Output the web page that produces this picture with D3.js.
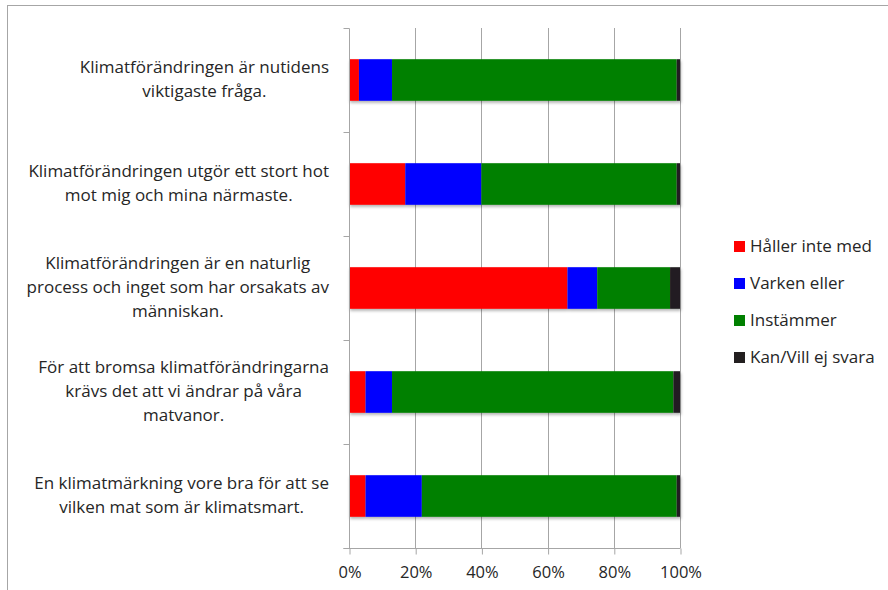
<!DOCTYPE html>
<html>
<head>
<meta charset="utf-8">
<script src="https://cdn.jsdelivr.net/npm/d3@7"></script>
<style>
    body { margin: 0; background: #fff; }
    svg { display: block; font-family: "Open Sans", Lato, sans-serif; }
</style>
</head>
<body>
<div id="chart"></div>
<script>
// -- DATA --
const statements = [
    ["Klimatförändringen är nutidens", "viktigaste fråga."],
    ["Klimatförändringen utgör ett stort hot", "mot mig och mina närmaste."],
    ["Klimatförändringen är en naturlig", "process och inget som har orsakats av", "människan."],
    ["För att bromsa klimatförändringarna", "krävs det att vi ändrar på våra", "matvanor."],
    ["En klimatmärkning vore bra för att se", "vilken mat som är klimatsmart."]
];
const series = ["Håller inte med", "Varken eller", "Instämmer", "Kan/Vill ej svara"];
const hallerInteMed = [3, 17, 66, 5, 5];
const varkenEller = [10, 23, 9, 8, 17];
const instammer = [86, 59, 22, 85, 77];
const kanVillEjSvara = [1, 1, 3, 2, 1];
const xTicks = [0, 0.2, 0.4, 0.6, 0.8, 1];
const colors = ["#ff0000", "#0000ff", "#008000", "#231f20"];

// -- TABLE --
let rows = statements.map((s, i) => ({
    id: i,
    "Håller inte med": hallerInteMed[i],
    "Varken eller": varkenEller[i],
    "Instämmer": instammer[i],
    "Kan/Vill ej svara": kanVillEjSvara[i]
}));

const width = 888, height = 590;
const plotLeft = 349, plotRight = 680, plotTop = 28, plotBottom = 548;
const fontSize = "17px";

let svg = d3.select("#chart").append("svg")
    .attr("width", width)
    .attr("height", height);

// shadow for bars
let defs = svg.append("defs");
defs.append("filter")
    .attr("id", "shadow")
    .attr("x", "-5%").attr("y", "-10%")
    .attr("width", "115%").attr("height", "140%")
    .append("feDropShadow")
    .attr("dx", 1).attr("dy", 2)
    .attr("stdDeviation", 1.5)
    .attr("flood-color", "#000")
    .attr("flood-opacity", 0.3);

// outer frame
svg.append("rect")
    .attr("x", 7.5).attr("y", 5.5)
    .attr("width", width).attr("height", height)
    .attr("fill", "none")
    .attr("stroke", "#a6a6a6");

let x = d3.scaleLinear().domain([0, 1]).range([plotLeft, plotRight]);
let y = d3.scaleBand().domain(rows.map(d => d.id)).range([plotTop, plotBottom]).paddingInner(0.6).paddingOuter(0.3);
let yEdge = d3.scaleLinear().domain([0, statements.length]).range([plotTop, plotBottom]);

// -- GRID --
svg.append("g")
    .selectAll("line")
    .data(xTicks.slice(1))
    .enter().append("line")
    .attr("x1", d => Math.round(x(d)) + 0.5)
    .attr("x2", d => Math.round(x(d)) + 0.5)
    .attr("y1", plotTop)
    .attr("y2", plotBottom)
    .attr("stroke", "#a6a6a6");

// -- BARS --
let stack = d3.stack().keys(series)(rows.map(r => {
    let total = d3.sum(series, k => r[k]);
    let o = { id: r.id };
    series.forEach(k => o[k] = r[k] / total);
    return o;
}));

let barG = svg.append("g").attr("filter", "url(#shadow)");
barG.selectAll("g")
    .data(stack)
    .enter().append("g")
    .attr("fill", (d, i) => colors[i])
    .selectAll("rect")
    .data(d => d)
    .enter().append("rect")
    .attr("x", d => x(d[0]))
    .attr("width", d => x(d[1]) - x(d[0]))
    .attr("y", d => y(d.data.id))
    .attr("height", y.bandwidth());

// -- AXES --
let xAxis = d3.axisBottom(x)
    .tickValues(xTicks)
    .tickFormat(d3.format(".0%"))
    .tickSizeInner(6)
    .tickSizeOuter(0)
    .tickPadding(12);

let gx = svg.append("g")
    .attr("transform", `translate(0.5,${plotBottom + 0.5})`)
    .call(xAxis);
gx.select(".domain").attr("stroke", "#a6a6a6").attr("d", `M${plotLeft - 6},0H${plotRight}`);
gx.selectAll(".tick line").attr("stroke", "#a6a6a6");
gx.selectAll(".tick text")
    .attr("fill", "#262626")
    .style("font-size", "16.5px")
    .style("font-family", "'Open Sans', Lato, sans-serif");

let gy = svg.append("g")
    .attr("transform", `translate(${plotLeft + 0.5},0.5)`);
gy.append("line")
    .attr("y1", plotTop).attr("y2", plotBottom)
    .attr("stroke", "#a6a6a6");
gy.selectAll(".cat-tick")
    .data(d3.range(statements.length + 1))
    .enter().append("line")
    .attr("class", "cat-tick")
    .attr("x1", -6).attr("x2", 0)
    .attr("y1", d => Math.round(yEdge(d)))
    .attr("y2", d => Math.round(yEdge(d)))
    .attr("stroke", "#a6a6a6");

// -- CATEGORY LABELS --
const lineH = 24;
let labelRight = 329;
statements.forEach((lines, i) => {
    let cy = y(i) + y.bandwidth() / 2;
    let t = svg.append("text")
        .attr("text-anchor", "middle")
        .attr("fill", "#262626")
        .style("font-size", fontSize);
    lines.forEach((ln, j) => {
        t.append("tspan")
            .attr("y", cy + (j - (lines.length - 1) / 2) * lineH + 5)
            .text(ln);
    });
    let maxW = d3.max(t.selectAll("tspan").nodes(), n => n.getComputedTextLength());
    t.selectAll("tspan").attr("x", labelRight - maxW / 2);
});

// -- LEGEND --
let legend = svg.append("g")
    .selectAll(".legend_row")
    .data(series)
    .enter().append("g")
    .attr("class", "legend_row")
    .attr("transform", (d, i) => `translate(734,${246 + i * 37})`);

legend.append("rect")
    .attr("x", 0).attr("y", -5)
    .attr("width", 11).attr("height", 11)
    .attr("fill", (d, i) => colors[i]);

legend.append("text")
    .attr("x", 16).attr("y", 6)
    .attr("fill", "#262626")
    .style("font-size", fontSize)
    .text(d => d);
</script>
</body>
</html>
